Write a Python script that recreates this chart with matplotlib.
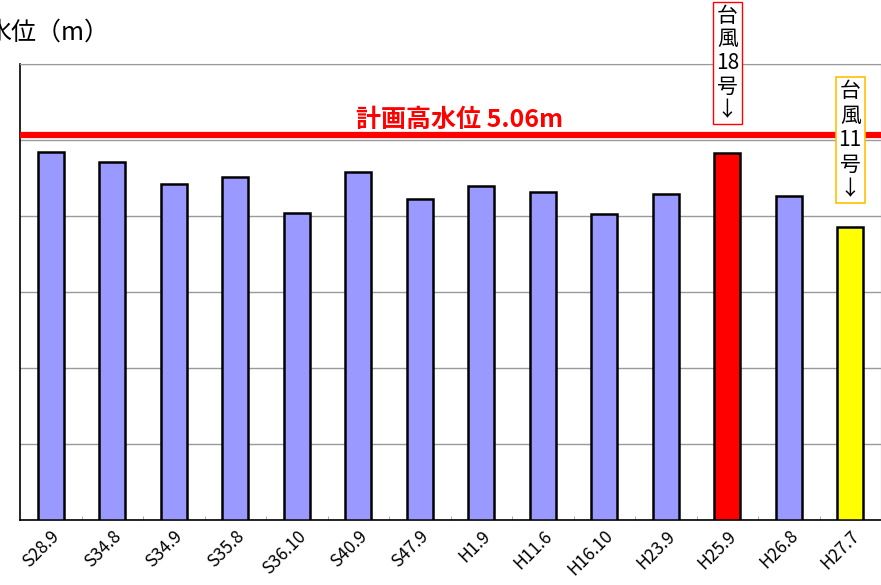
import matplotlib
matplotlib.use("Agg")
import matplotlib.pyplot as plt
import numpy as np

plt.rcParams['font.family'] = ['Noto Sans CJK JP', 'DejaVu Sans']

# 洪水ごとの最高水位 (m)
labels = ['S28.9', 'S34.8', 'S34.9', 'S35.8', 'S36.10', 'S40.9', 'S47.9',
          'H1.9', 'H11.6', 'H16.10', 'H23.9', 'H25.9', 'H26.8', 'H27.7']
levels = [4.84, 4.71, 4.42, 4.51, 4.04, 4.58, 4.22,
          4.39, 4.32, 4.03, 4.29, 4.83, 4.26, 3.86]
colors = ['#9999FF'] * 11 + ['#FF0000', '#9999FF', '#FFFF00']
plan_level = 5.06

fig = plt.figure(figsize=(8.81, 5.85), dpi=100)
ax = fig.add_axes([20 / 881, 65 / 585, 861 / 881, 456 / 585])

x = np.arange(len(labels))
ax.bar(x, levels, width=0.42, color=colors, edgecolor='black', linewidth=1.8, zorder=3)

ax.set_xlim(-0.5, len(labels) - 0.5)
ax.set_ylim(0, 6)
ax.set_yticks(np.arange(0, 7, 1))
ax.yaxis.grid(True, color='#999999', linewidth=1)
ax.tick_params(axis='y', left=False, labelleft=False)

ax.set_xticks(x)
ax.set_xticklabels(labels, rotation=45, ha='right', rotation_mode='anchor', fontsize=12.5)
ax.tick_params(axis='x', length=0, pad=5)
ax.set_xticks(x[:-1] + 0.5, minor=True)
ax.tick_params(axis='x', which='minor', direction='in', length=3, color='#999999')

for s in ['top', 'right']:
    ax.spines[s].set_color('#999999')
ax.spines['left'].set_color('black')
ax.spines['bottom'].set_color('black')
ax.spines['left'].set_linewidth(1.2)
ax.spines['bottom'].set_linewidth(1.2)

# 計画高水位
ax.axhline(plan_level, color='#FF0000', linewidth=4.5, zorder=4)
ax.text(0.51, plan_level + 0.04, '計画高水位 5.06m', transform=ax.get_yaxis_transform(),
        color='#FF0000', fontsize=18, fontweight='bold', ha='center', va='bottom')

# 台風の注記
ax.text(11, 6.78, '台\n風\n18\n号\n↓', ha='center', va='top', fontsize=15,
        linespacing=1.1, clip_on=False, zorder=5,
        bbox=dict(facecolor='white', edgecolor='#FF0000', linewidth=1, pad=2))
ax.text(13, 5.79, '台\n風\n11\n号\n↓', ha='center', va='top', fontsize=15,
        linespacing=1.15, clip_on=False, zorder=5,
        bbox=dict(facecolor='white', edgecolor='#FFC000', linewidth=1.2, pad=2))

fig.text(-0.015, 0.945, '水位（m）', fontsize=18, ha='left', va='center')

fig.savefig('out.png', dpi=100)
